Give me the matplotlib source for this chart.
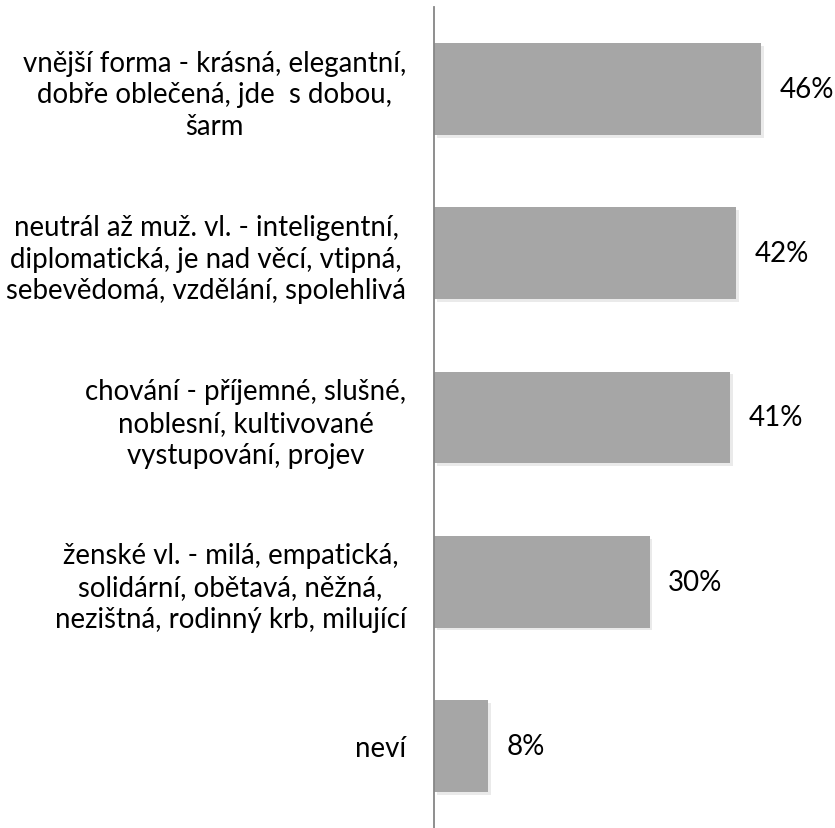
import matplotlib.pyplot as plt
import matplotlib.patheffects as pe

# Kategorie (shora dolů) a hodnoty v %
categories = [
    "vnější forma - krásná, elegantní,\ndobře oblečená, jde  s dobou,\nšarm",
    "neutrál až muž. vl. - inteligentní,\ndiplomatická, je nad věcí, vtipná,\nsebevědomá, vzdělání, spolehlivá",
    "chování - příjemné, slušné,\nnoblesní, kultivované\nvystupování, projev",
    "ženské vl. - milá, empatická,\nsolidární, obětavá, něžná,\nnezištná, rodinný krb, milující",
    "neví",
]
values = [45.7, 42.2, 41.4, 30.1, 7.6]
labels = ["46%", "42%", "41%", "30%", "8%"]

plt.rcParams['font.family'] = ['Lato', 'DejaVu Sans']

fig = plt.figure(figsize=(8.35, 8.29), dpi=100)
ax = fig.add_axes([434 / 835, 0.0, 1 - 434 / 835, (829 - 8) / 829])

y = list(range(len(categories)))
bars = ax.barh(y, values, height=0.56, color='#a6a6a6')
for b in bars:
    b.set_path_effects([pe.SimplePatchShadow(offset=(2, -2), shadow_rgbFace='#bbbbbb', alpha=0.3),
                        pe.Normal()])

for yi, v, lab in zip(y, values, labels):
    ax.annotate(lab, (v, yi), xytext=(13, 0), textcoords='offset points',
                ha='left', va='center', fontsize=20)

ax.set_xlim(0, 56)
ax.set_ylim(len(categories) - 0.5, -0.5)
ax.set_yticks(y)
ax.set_yticklabels(categories, fontsize=19.9, linespacing=1.27, multialignment='center')
ax.tick_params(axis='y', length=0, pad=20)
ax.set_xticks([])

for s in ['top', 'right', 'bottom']:
    ax.spines[s].set_visible(False)
ax.spines['left'].set_color('#868686')
ax.spines['left'].set_linewidth(1.3)

fig.savefig('out.png', dpi=100)
